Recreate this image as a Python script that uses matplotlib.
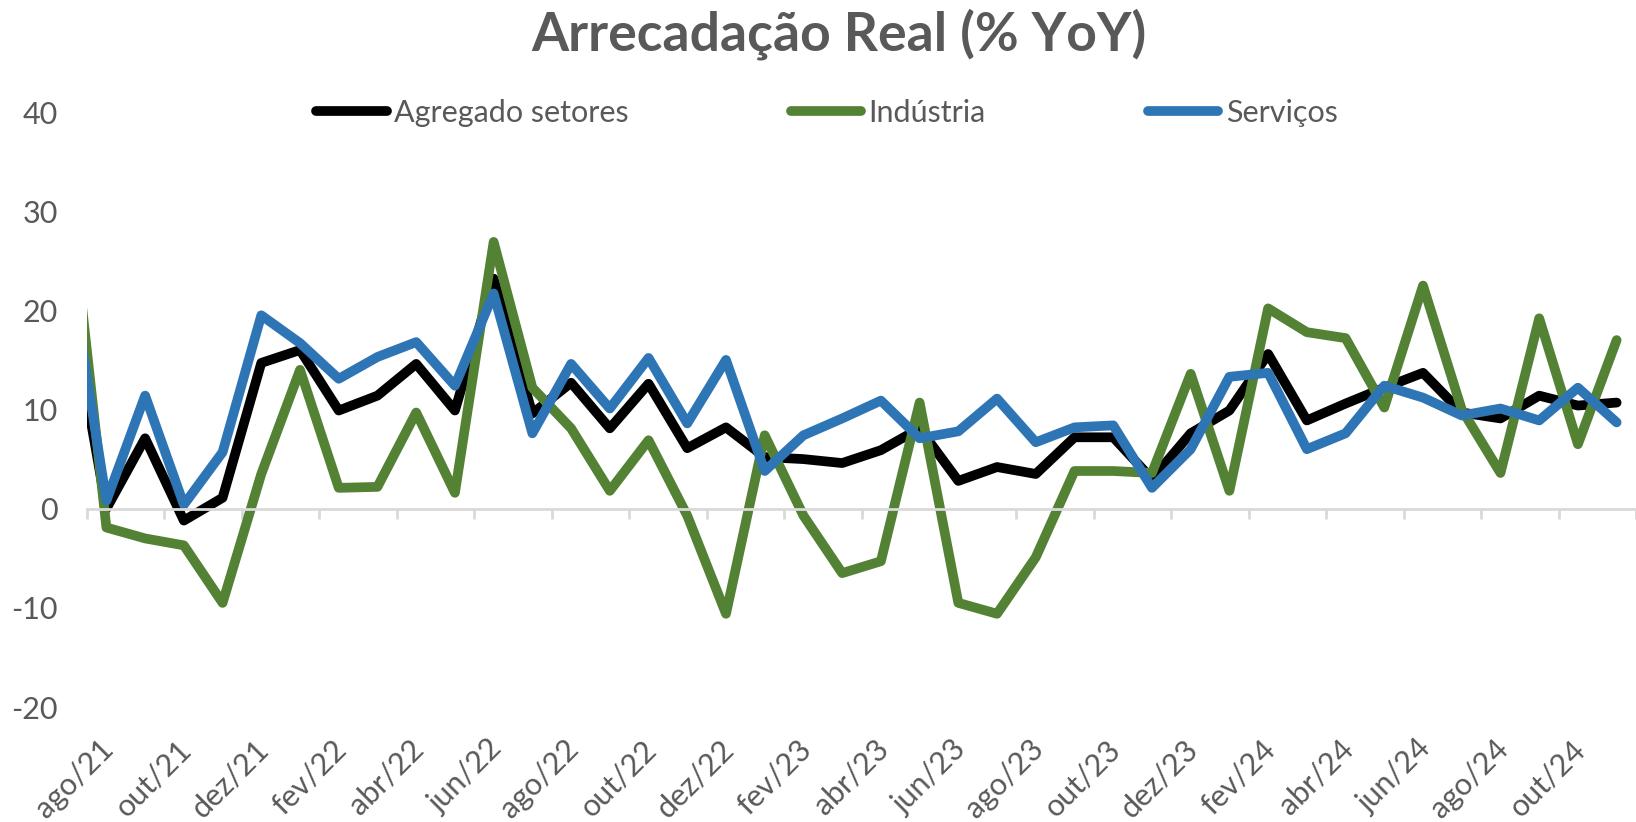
import matplotlib.pyplot as plt
from matplotlib.transforms import ScaledTranslation

plt.rcParams['font.family'] = ['Lato', 'DejaVu Sans']
plt.rcParams['axes.unicode_minus'] = False

# meses de jul/21 a nov/24 (jul/21 fica cortado na borda esquerda)
meses = ['jul/21', 'ago/21', 'set/21', 'out/21', 'nov/21', 'dez/21',
         'jan/22', 'fev/22', 'mar/22', 'abr/22', 'mai/22', 'jun/22',
         'jul/22', 'ago/22', 'set/22', 'out/22', 'nov/22', 'dez/22',
         'jan/23', 'fev/23', 'mar/23', 'abr/23', 'mai/23', 'jun/23',
         'jul/23', 'ago/23', 'set/23', 'out/23', 'nov/23', 'dez/23',
         'jan/24', 'fev/24', 'mar/24', 'abr/24', 'mai/24', 'jun/24',
         'jul/24', 'ago/24', 'set/24', 'out/24', 'nov/24']

agregado = [22.0, 0.0, 7.1, -1.2, 1.1, 14.7,
            16.0, 9.9, 11.4, 14.6, 9.9, 23.2,
            9.6, 12.7, 8.1, 12.6, 6.1, 8.2,
            5.2, 5.0, 4.6, 5.9, 8.1, 2.8,
            4.2, 3.5, 7.2, 7.2, 3.0, 7.6,
            9.9, 15.6, 8.9, 10.6, 12.2, 13.7,
            9.7, 9.1, 11.4, 10.4, 10.7]

industria = [33.5, -1.9, -3.0, -3.7, -9.5, 3.5,
             14.0, 2.1, 2.2, 9.7, 1.6, 26.9,
             12.2, 8.1, 1.8, 6.9, -0.7, -10.6,
             7.4, -0.7, -6.5, -5.3, 10.7, -9.5,
             -10.6, -4.9, 3.8, 3.8, 3.6, 13.6,
             1.8, 20.2, 17.8, 17.2, 10.2, 22.5,
             10.0, 3.6, 19.2, 6.5, 17.0]

servicos = [25.6, 0.8, 11.4, 0.4, 5.7, 19.5,
            16.7, 13.1, 15.3, 16.8, 12.4, 21.7,
            7.6, 14.6, 10.1, 15.2, 8.6, 15.0,
            3.8, 7.4, 9.1, 10.9, 7.1, 7.8,
            11.1, 6.7, 8.2, 8.4, 2.1, 6.0,
            13.3, 13.7, 6.0, 7.6, 12.4, 11.2,
            9.4, 10.1, 8.9, 12.2, 8.7]

cinza = '#595959'
x = list(range(len(meses)))

fig = plt.figure(figsize=(16.36, 8.22), dpi=100)
ax = fig.add_axes([0.0532, 0.1399, 0.9468, 0.7238])

estilo = dict(linewidth=7, solid_capstyle='round', solid_joinstyle='round')
ax.plot(x, agregado, color='#000000', label='Agregado setores', **estilo)
ax.plot(x, industria, color='#548235', label='Indústria', **estilo)
ax.plot(x, servicos, color='#2E75B6', label='Serviços', **estilo)

ax.set_xlim(0.5, len(meses) - 1 + 0.13)
ax.set_ylim(-20, 40)
ax.set_yticks(range(-20, 41, 10))

for s in ['left', 'right', 'top']:
    ax.spines[s].set_visible(False)
ax.spines['bottom'].set_position(('data', 0))
ax.spines['bottom'].set_color('#D9D9D9')
ax.spines['bottom'].set_linewidth(2)

# marcas entre categorias, a cada 2 meses
ax.set_xticks([i + 0.5 for i in range(0, len(meses), 2)])
ax.tick_params(axis='x', direction='out', length=7, width=2, color='#D9D9D9',
               labelbottom=False)
ax.tick_params(axis='y', length=0, pad=21, labelsize=22, labelcolor=cinza)

# rótulos do eixo x na base do gráfico
sec = ax.secondary_xaxis('bottom')
sec.set_xticks(x[1::2], meses[1::2])
sec.spines['bottom'].set_visible(False)
sec.tick_params(length=0, pad=20, labelsize=22, labelcolor=cinza)
desloc = ScaledTranslation(-5 / 72, 0, fig.dpi_scale_trans)
for t in sec.get_xticklabels():
    t.set_rotation(45)
    t.set_ha('right')
    t.set_rotation_mode('anchor')
    t.set_transform(t.get_transform() + desloc)

ax.legend(ncol=3, loc='center', bbox_to_anchor=(0.5055, 0.8625),
          bbox_transform=fig.transFigure, frameon=False, fontsize=22,
          labelcolor=cinza, handlelength=2.3, handletextpad=0.25,
          columnspacing=5.3)

fig.text(0.513, 0.939, 'Arrecadação Real (% YoY)', ha='center', va='baseline',
         fontsize=38.5, fontweight='bold', color=cinza)

fig.savefig('out.png', dpi=100)
